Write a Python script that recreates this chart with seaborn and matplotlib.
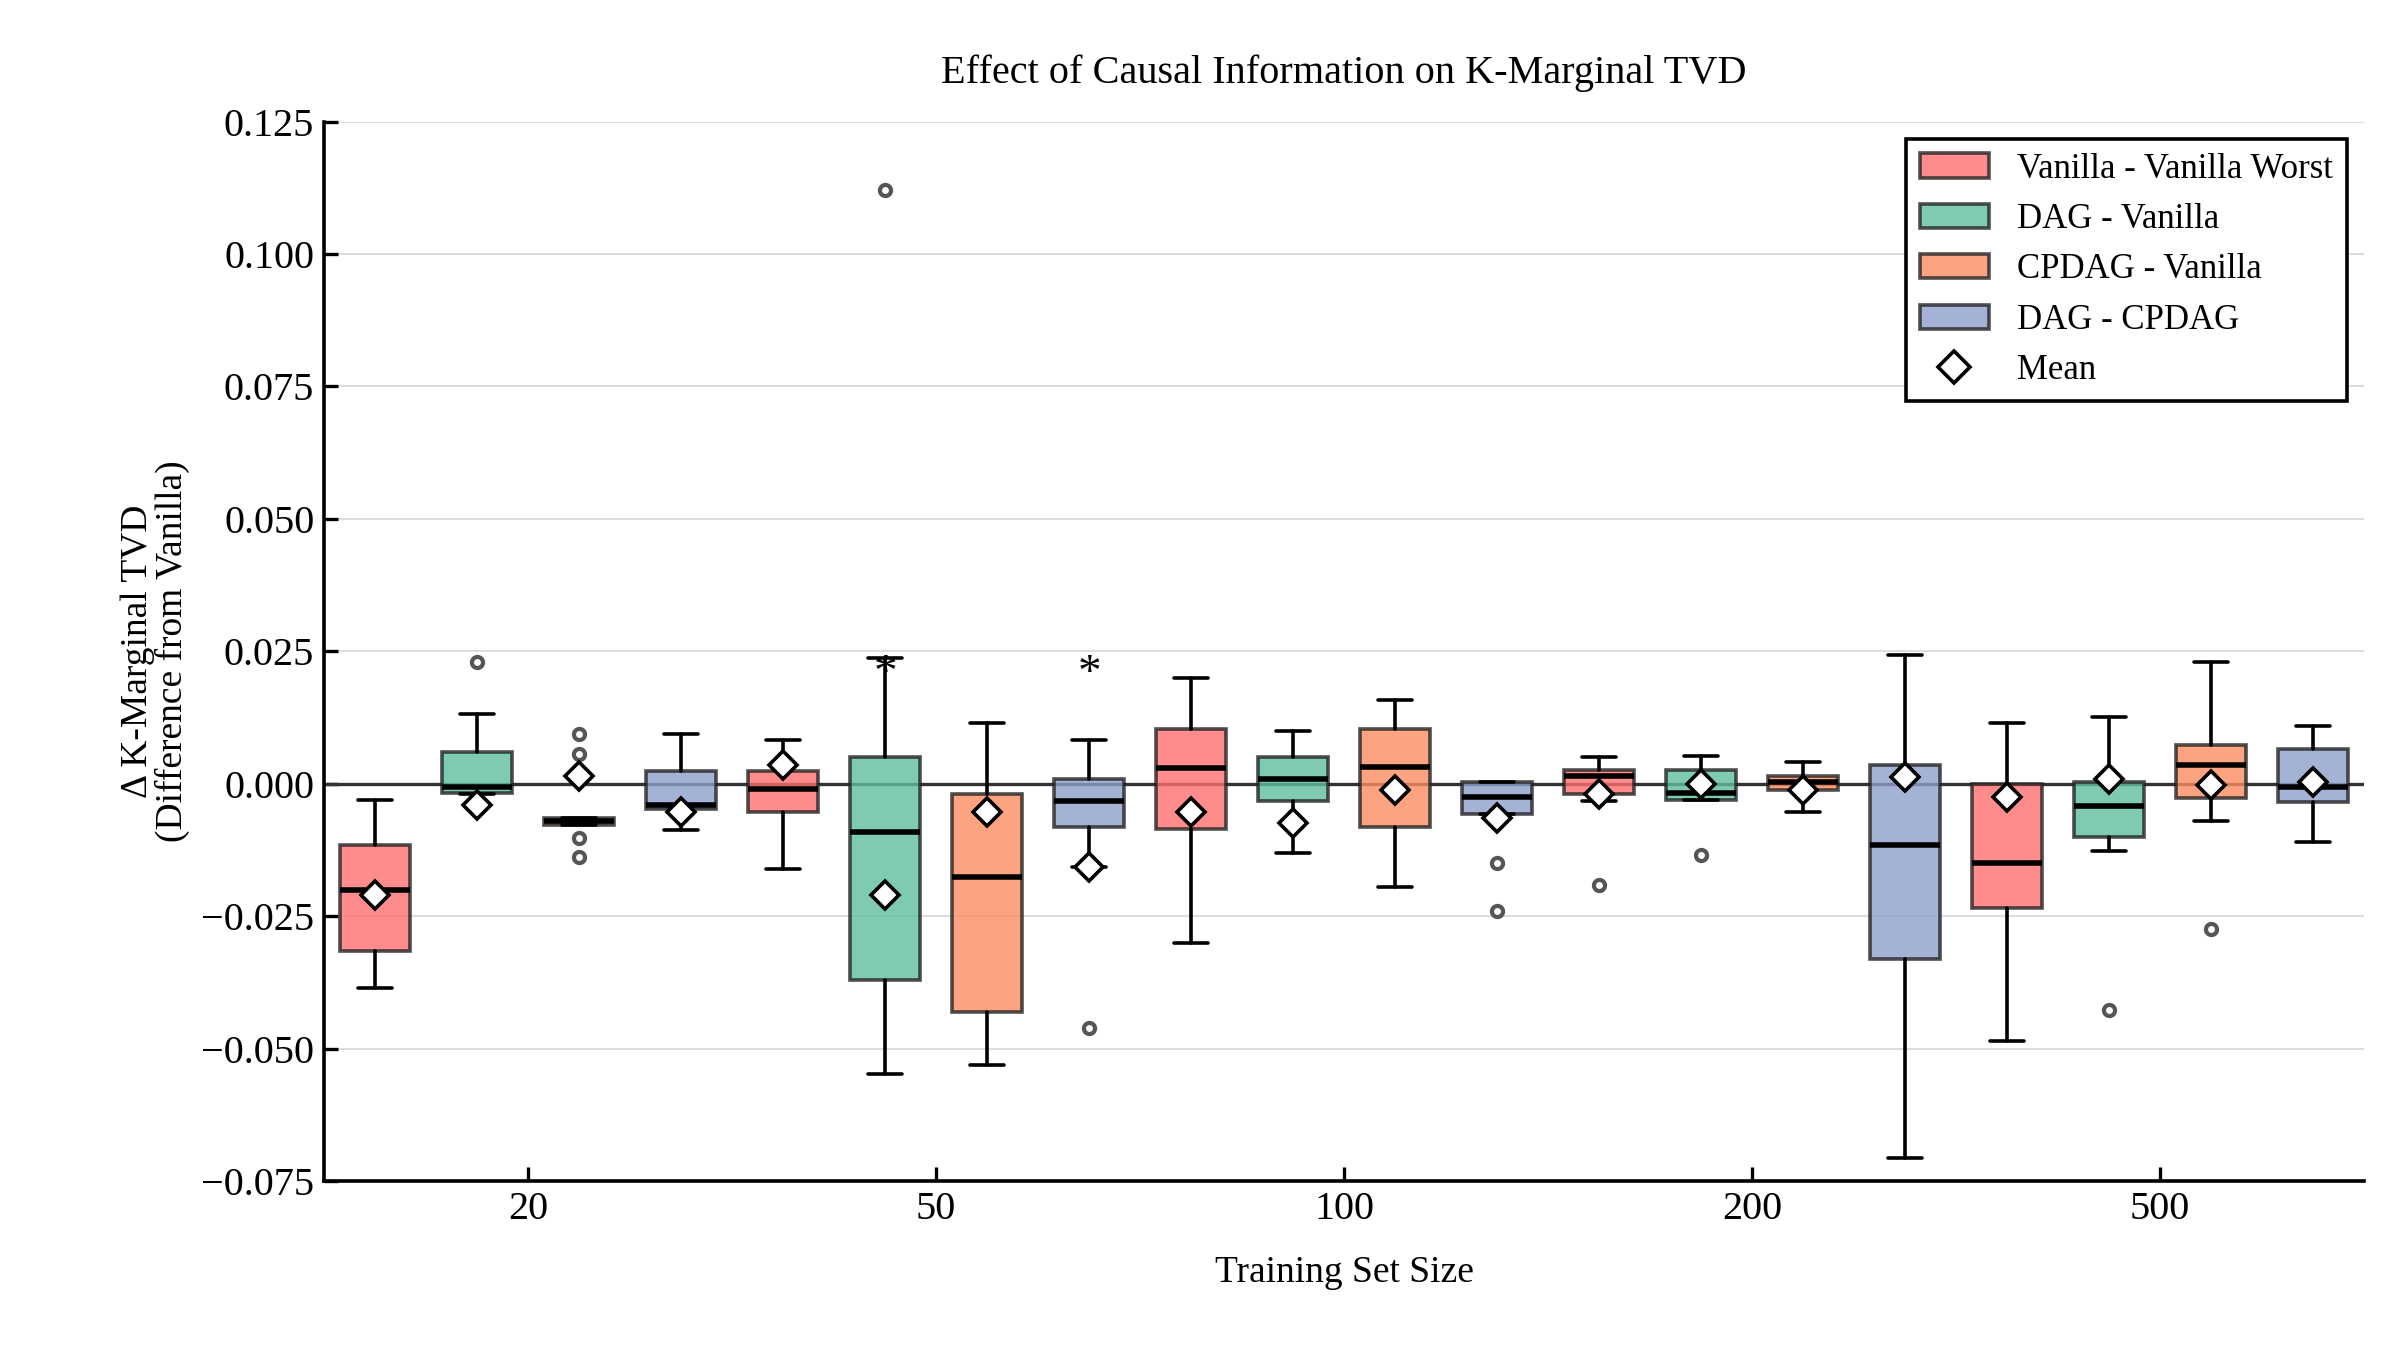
import numpy as np
import matplotlib
matplotlib.use('Agg')
import matplotlib.pyplot as plt
import seaborn as sns
from matplotlib.patches import Patch
from matplotlib.lines import Line2D

sizes = ['20', '50', '100', '200', '500']
comparisons = ['Vanilla - Vanilla Worst', 'DAG - Vanilla', 'CPDAG - Vanilla', 'DAG - CPDAG']
colors = ['#ff6f6f', '#5fbf9c', '#fc8d62', '#8da0cb']

# per size, per comparison: (whislo, q1, med, q3, whishi, mean)
box_stats = [
    [(-0.0385, -0.0315, -0.0200, -0.0115, -0.0030, -0.0210),
     (-0.0020, -0.0018, -0.0006, 0.0060, 0.0132, -0.0040),
     (-0.0078, -0.0078, -0.0070, -0.0065, -0.0065, 0.0015),
     (-0.0088, -0.0047, -0.0040, 0.0024, 0.0094, -0.0053)],
    [(-0.0160, -0.0053, -0.0010, 0.0024, 0.0082, 0.0035),
     (-0.0547, -0.0370, -0.0090, 0.0050, 0.0238, -0.0210),
     (-0.0530, -0.0430, -0.0176, -0.0020, 0.0115, -0.0053),
     (-0.0156, -0.0082, -0.0032, 0.0009, 0.0082, -0.0156)],
    [(-0.0300, -0.0085, 0.0030, 0.0103, 0.0200, -0.0053),
     (-0.0130, -0.0032, 0.0009, 0.0050, 0.0100, -0.0074),
     (-0.0194, -0.0082, 0.0032, 0.0103, 0.0159, -0.0012),
     (-0.0056, -0.0056, -0.0024, 0.0003, 0.0003, -0.0065)],
    [(-0.0032, -0.0020, 0.0015, 0.0026, 0.0050, -0.0020),
     (-0.0030, -0.0030, -0.0018, 0.0026, 0.0053, 0.0000),
     (-0.0053, -0.0012, 0.0003, 0.0015, 0.0041, -0.0012),
     (-0.0706, -0.0330, -0.0115, 0.0035, 0.0244, 0.0012)],
    [(-0.0485, -0.0235, -0.0150, 0.0000, 0.0115, -0.0024),
     (-0.0126, -0.0100, -0.0041, 0.0003, 0.0126, 0.0009),
     (-0.0070, -0.0026, 0.0035, 0.0074, 0.0230, -0.0003),
     (-0.0110, -0.0035, -0.0006, 0.0065, 0.0110, 0.0003)],
]
outliers = {
    (0, 1): [0.023],
    (0, 2): [0.0094, 0.0056, -0.0103, -0.0138],
    (1, 1): [0.112],
    (1, 3): [-0.046],
    (2, 3): [-0.015, -0.024],
    (3, 0): [-0.019],
    (3, 1): [-0.0135],
    (4, 1): [-0.0426],
    (4, 2): [-0.0274],
}
significant = [(1, 1), (1, 3)]

sns.set_theme(style='ticks')
plt.rcParams['font.family'] = ['Liberation Serif', 'DejaVu Serif']
for k in ['text.color', 'axes.labelcolor', 'xtick.color', 'ytick.color']:
    plt.rcParams[k] = 'black'

fig, ax = plt.subplots(figsize=(12, 6.75), dpi=200)
ax.yaxis.grid(True, color='#dddddd', lw=0.7)
ax.set_axisbelow(True)

step = 0.25
for gi in range(len(sizes)):
    for hi in range(len(comparisons)):
        lo, q1, med, q3, hi_w, mean = box_stats[gi][hi]
        pos = gi + (hi - 1.5) * step
        st = dict(whislo=lo, q1=q1, med=med, q3=q3, whishi=hi_w, mean=mean,
                  fliers=outliers.get((gi, hi), []))
        ax.bxp([st], positions=[pos], widths=0.17, patch_artist=True, showmeans=True,
               showcaps=True, capwidths=0.085,
               boxprops=dict(facecolor=colors[hi], alpha=0.8, edgecolor='#222222', lw=1.3),
               medianprops=dict(color='black', lw=2),
               whiskerprops=dict(color='black', lw=1.3),
               capprops=dict(color='black', lw=1.3),
               flierprops=dict(marker='o', markersize=4, markerfacecolor='none',
                               markeredgecolor='#555555', markeredgewidth=1.5),
               meanprops=dict(marker='D', markerfacecolor='white', markeredgecolor='black',
                              markersize=7, markeredgewidth=1.3))
        if (gi, hi) in significant:
            ax.text(pos, 0.0165, '*', ha='center', va='bottom', fontsize=17)

ax.axhline(0, color='#333333', lw=1.2, zorder=1)
ax.set_xlim(-0.5, 4.5)
ax.set_ylim(-0.075, 0.125)
ax.set_xticks(range(len(sizes)))
ax.set_xticklabels(sizes)
yt = np.arange(-0.075, 0.1251, 0.025)
ax.set_yticks(yt)
ax.set_yticklabels([f'{v:.3f}'.replace('-', '\u2212') for v in yt])
ax.tick_params(direction='in', labelsize=14.5, width=1.2, length=5)
for s in ['top', 'right']:
    ax.spines[s].set_visible(False)
for s in ['left', 'bottom']:
    ax.spines[s].set_linewidth(1.3)
    ax.spines[s].set_color('black')

ax.set_xlabel('Training Set Size', fontsize=13.5, labelpad=10)
ax.set_ylabel('\u0394 K-Marginal TVD\n(Difference from Vanilla)', fontsize=13.5, linespacing=1.0)
ax.set_title('Effect of Causal Information on K-Marginal TVD', fontsize=14.5, pad=14)

handles = [Patch(facecolor=c, alpha=0.8, edgecolor='#222222', lw=1.3, label=l)
           for c, l in zip(colors, comparisons)]
handles.append(Line2D([], [], marker='D', ls='none', markerfacecolor='white',
                      markeredgecolor='black', markersize=8, markeredgewidth=1.3, label='Mean'))
leg = ax.legend(handles=handles, loc='upper right', fontsize=12.5, fancybox=False,
                framealpha=1, edgecolor='black')
leg.get_frame().set_linewidth(1.3)

fig.subplots_adjust(left=0.135, right=0.985, top=0.91, bottom=0.125)
fig.savefig('out.png', dpi=200)
